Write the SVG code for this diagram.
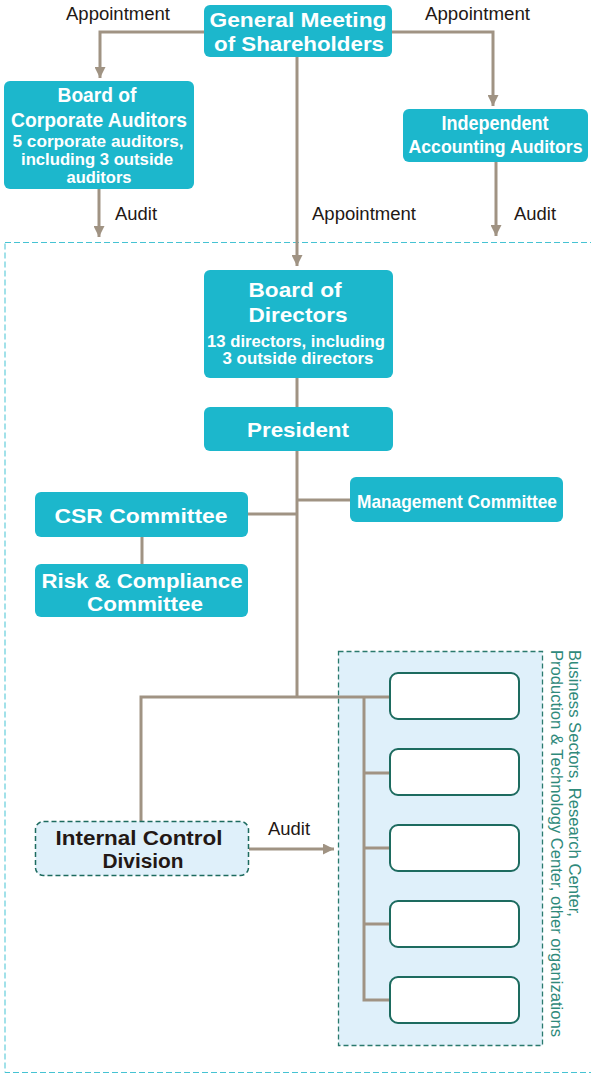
<svg xmlns="http://www.w3.org/2000/svg" width="591" height="1074" viewBox="0 0 591 1074">
<defs>
<style>
.node{fill:#1cb7cc;}
.t{font-family:"Liberation Sans",Arial,sans-serif;font-weight:bold;fill:#ffffff;text-anchor:middle;}
.lbl{font-family:"Liberation Sans",Arial,sans-serif;font-size:18px;fill:#231815;}
.con{fill:none;stroke:#a09383;stroke-width:3;}
.inner{fill:#ffffff;stroke:#1d6b5f;stroke-width:2;}
.dk{font-family:"Liberation Sans",Arial,sans-serif;font-weight:bold;fill:#231815;text-anchor:middle;}
.vt{font-family:"Liberation Sans",Arial,sans-serif;font-size:16px;fill:#2f8a7b;}
</style>
<marker id="ah" viewBox="0 0 10 10" refX="10" refY="5" markerWidth="11" markerHeight="11" markerUnits="userSpaceOnUse" orient="auto">
<path d="M0,0 L10,5 L0,10 z" fill="#a09383"/>
</marker>
</defs>
<rect x="0" y="0" width="591" height="1074" fill="#ffffff"/>
<rect id="scope" x="5" y="242.5" width="600" height="830" fill="none" stroke="#45c3d3" stroke-width="1" stroke-dasharray="6 3"/>
<g id="business-group">
<rect x="338.5" y="651.5" width="204" height="394" fill="#dff0fa" stroke="#2a7a6e" stroke-width="1.3" stroke-dasharray="5 3"/>
<text class="vt" transform="translate(569,650) rotate(90)" textLength="267" lengthAdjust="spacingAndGlyphs">Business Sectors, Research Center,</text>
<text class="vt" transform="translate(551,650) rotate(90)" textLength="387" lengthAdjust="spacingAndGlyphs">Production &amp; Technology Center, other organizations</text>
</g>
<g id="connectors">
<path class="con" d="M204,32 H100 V78" marker-end="url(#ah)"/>
<path class="con" d="M392,32 H493 V106" marker-end="url(#ah)"/>
<path class="con" d="M297,57 V266" marker-end="url(#ah)"/>
<path class="con" d="M99,189 V237" marker-end="url(#ah)"/>
<path class="con" d="M496,162 V236" marker-end="url(#ah)"/>
<path class="con" d="M297,378 V407"/>
<path class="con" d="M297,451 V697"/>
<path class="con" d="M297,500 H350"/>
<path class="con" d="M248,514 H297"/>
<path class="con" d="M142,537 V564"/>
<path class="con" d="M141,821 V697 H390"/>
<path class="con" d="M364,697 V1000 H390"/>
<path class="con" d="M364,773 H390"/>
<path class="con" d="M364,848 H390"/>
<path class="con" d="M364,924 H390"/>
<path class="con" d="M249,849 H334" marker-end="url(#ah)"/>
<text class="lbl" x="66" y="20" textLength="104" lengthAdjust="spacingAndGlyphs">Appointment</text>
<text class="lbl" x="425" y="20" textLength="105" lengthAdjust="spacingAndGlyphs">Appointment</text>
<text class="lbl" x="312" y="220" textLength="104" lengthAdjust="spacingAndGlyphs">Appointment</text>
<text class="lbl" x="115" y="220" textLength="42" lengthAdjust="spacingAndGlyphs">Audit</text>
<text class="lbl" x="514" y="220" textLength="42" lengthAdjust="spacingAndGlyphs">Audit</text>
<text class="lbl" x="268" y="835" textLength="42" lengthAdjust="spacingAndGlyphs">Audit</text>
</g>
<g id="gms">
<rect class="node" x="204" y="5" width="188" height="52" rx="6"/>
<text class="t" x="298" y="27" font-size="21" textLength="177" lengthAdjust="spacingAndGlyphs">General Meeting</text>
<text class="t" x="299" y="51" font-size="21" textLength="170" lengthAdjust="spacingAndGlyphs">of Shareholders</text>
</g>
<g id="corporate-auditors">
<rect class="node" x="4" y="81" width="190" height="108" rx="6"/>
<text class="t" x="97" y="102" font-size="19.5" textLength="79" lengthAdjust="spacingAndGlyphs">Board of</text>
<text class="t" x="99" y="127" font-size="19.5" textLength="176" lengthAdjust="spacingAndGlyphs">Corporate Auditors</text>
<text class="t" x="98" y="147" font-size="16" textLength="171" lengthAdjust="spacingAndGlyphs">5 corporate auditors,</text>
<text class="t" x="97" y="165" font-size="16" textLength="152" lengthAdjust="spacingAndGlyphs">including 3 outside</text>
<text class="t" x="99" y="183" font-size="16" textLength="65" lengthAdjust="spacingAndGlyphs">auditors</text>
</g>
<g id="accounting-auditors">
<rect class="node" x="403" y="109" width="185" height="53" rx="6"/>
<text class="t" x="495" y="130" font-size="20" textLength="107" lengthAdjust="spacingAndGlyphs">Independent</text>
<text class="t" x="495.5" y="153" font-size="18" textLength="174" lengthAdjust="spacingAndGlyphs">Accounting Auditors</text>
</g>
<g id="board-of-directors">
<rect class="node" x="204" y="270" width="189" height="108" rx="6"/>
<text class="t" x="295" y="297" font-size="21" textLength="93" lengthAdjust="spacingAndGlyphs">Board of</text>
<text class="t" x="298" y="322" font-size="21" textLength="99" lengthAdjust="spacingAndGlyphs">Directors</text>
<text class="t" x="296" y="347" font-size="16.5" textLength="178" lengthAdjust="spacingAndGlyphs">13 directors, including</text>
<text class="t" x="298" y="364" font-size="16.5" textLength="151" lengthAdjust="spacingAndGlyphs">3 outside directors</text>
</g>
<g id="president">
<rect class="node" x="204" y="407" width="189" height="44" rx="6"/>
<text class="t" x="298" y="437" font-size="21" textLength="102" lengthAdjust="spacingAndGlyphs">President</text>
</g>
<g id="management-committee">
<rect class="node" x="350" y="477" width="213" height="45" rx="6"/>
<text class="t" x="457" y="508" font-size="19" textLength="200" lengthAdjust="spacingAndGlyphs">Management Committee</text>
</g>
<g id="csr-committee">
<rect class="node" x="35" y="492" width="213" height="45" rx="6"/>
<text class="t" x="141" y="523" font-size="21" textLength="173" lengthAdjust="spacingAndGlyphs">CSR Committee</text>
</g>
<g id="risk-compliance">
<rect class="node" x="35" y="564" width="213" height="53" rx="6"/>
<text class="t" x="142" y="588" font-size="21" textLength="201" lengthAdjust="spacingAndGlyphs">Risk &amp; Compliance</text>
<text class="t" x="145" y="611" font-size="21" textLength="116" lengthAdjust="spacingAndGlyphs">Committee</text>
</g>
<g id="internal-control">
<rect x="35.5" y="821.5" width="213" height="54" rx="8" fill="#dff0fa" stroke="#1d6b5f" stroke-width="1.5" stroke-dasharray="5 3"/>
<text class="dk" x="139" y="845" font-size="20" textLength="167" lengthAdjust="spacingAndGlyphs">Internal Control</text>
<text class="dk" x="143" y="868" font-size="20" textLength="81" lengthAdjust="spacingAndGlyphs">Division</text>
</g>
<g id="org-1"><rect class="inner" x="390" y="673" width="129" height="46" rx="8"/></g>
<g id="org-2"><rect class="inner" x="390" y="749" width="129" height="46" rx="8"/></g>
<g id="org-3"><rect class="inner" x="390" y="825" width="129" height="46" rx="8"/></g>
<g id="org-4"><rect class="inner" x="390" y="901" width="129" height="46" rx="8"/></g>
<g id="org-5"><rect class="inner" x="390" y="977" width="129" height="46" rx="8"/></g>
</svg>
